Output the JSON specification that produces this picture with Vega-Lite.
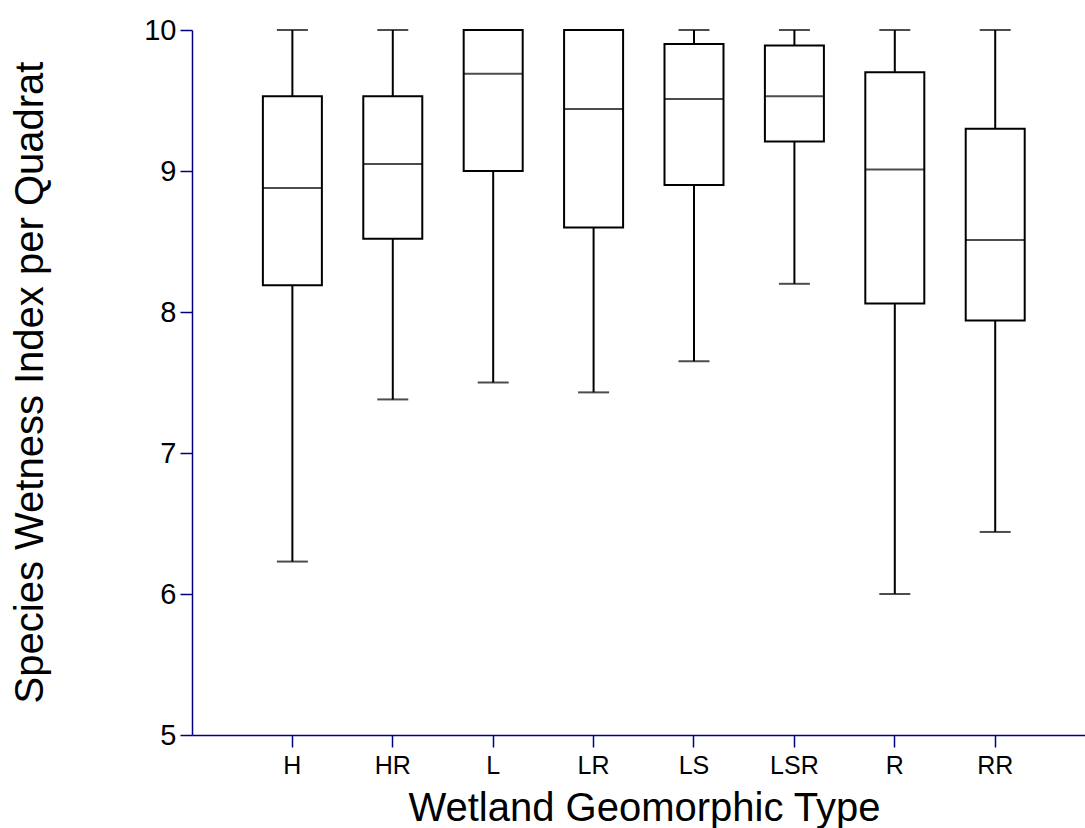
{
  "$schema": "https://vega.github.io/schema/vega-lite/v6.json",
  "width": 893,
  "height": 705,
  "autosize": {"type": "none"},
  "padding": {"left": 192, "top": 30, "right": 0, "bottom": 93},
  "background": "white",
  "config": {
    "view": {"stroke": null},
    "font": "Liberation Sans",
    "axis": {"labelFont": "Liberation Sans", "titleFont": "Liberation Sans", "labelColor": "black", "titleColor": "black", "titleFontWeight": "normal", "grid": false}
  },
  "data": {
    "values": [
      {"type": "H", "min": 6.23, "q1": 8.19, "median": 8.88, "q3": 9.53, "max": 10},
      {"type": "HR", "min": 7.38, "q1": 8.52, "median": 9.05, "q3": 9.53, "max": 10},
      {"type": "L", "min": 7.50, "q1": 9.00, "median": 9.69, "q3": 10, "max": 10},
      {"type": "LR", "min": 7.43, "q1": 8.60, "median": 9.44, "q3": 10, "max": 10},
      {"type": "LS", "min": 7.65, "q1": 8.90, "median": 9.51, "q3": 9.90, "max": 10},
      {"type": "LSR", "min": 8.20, "q1": 9.21, "median": 9.53, "q3": 9.89, "max": 10},
      {"type": "R", "min": 6.00, "q1": 8.06, "median": 9.01, "q3": 9.70, "max": 10},
      {"type": "RR", "min": 6.44, "q1": 7.94, "median": 8.51, "q3": 9.30, "max": 10}
    ]
  },
  "encoding": {
    "x": {
      "field": "type", "type": "nominal", "sort": null,
      "scale": {"paddingInner": 0, "paddingOuter": 0.447, "align": 0.559},
      "axis": {
        "title": "Wetland Geomorphic Type", "titleFontSize": 40, "titleX": 452, "titleY": 85,
        "titleBaseline": "alphabetic", "titleAlign": "center",
        "labelFontSize": 25, "labelAngle": 0, "labelPadding": 6,
        "tickSize": 12, "tickColor": "#000080", "tickWidth": 1.5,
        "domainColor": "#000080", "domainWidth": 1.5
      }
    }
  },
  "layer": [
    {
      "mark": {"type": "rule", "color": "black", "strokeWidth": 2},
      "encoding": {
        "y": {"field": "min", "type": "quantitative", "scale": {"domain": [5, 10], "nice": false, "zero": false},
          "axis": {
            "title": "Species Wetness Index per Quadrat", "titleFontSize": 40, "titleX": -150, "titleY": 352,
            "titleBaseline": "alphabetic", "titleAlign": "center", "titleAngle": -90,
            "values": [5, 5.5, 6, 6.5, 7, 7.5, 8, 8.5, 9, 9.5, 10],
            "format": "d",
            "labelExpr": "datum.value % 1 === 0 ? datum.label : ''",
            "labelFontSize": 29, "labelPadding": 4, "labelBaseline": "middle",
            "tickSize": 12, "tickColor": "#000080", "tickWidth": 1.5,
            "domainColor": "#000080", "domainWidth": 1.5
          }},
        "y2": {"field": "max"}
      }
    },
    {
      "mark": {"type": "bar", "fill": "white", "stroke": "black", "strokeWidth": 2, "size": 59},
      "encoding": {
        "y": {"field": "q1", "type": "quantitative"},
        "y2": {"field": "q3"}
      }
    },
    {
      "mark": {"type": "tick", "color": "black", "thickness": 2, "size": 59},
      "encoding": {"y": {"field": "median", "type": "quantitative"}}
    },
    {
      "mark": {"type": "tick", "color": "black", "thickness": 2, "size": 31},
      "encoding": {"y": {"field": "min", "type": "quantitative"}}
    },
    {
      "mark": {"type": "tick", "color": "black", "thickness": 2, "size": 31},
      "encoding": {"y": {"field": "max", "type": "quantitative"}}
    }
  ]
}
